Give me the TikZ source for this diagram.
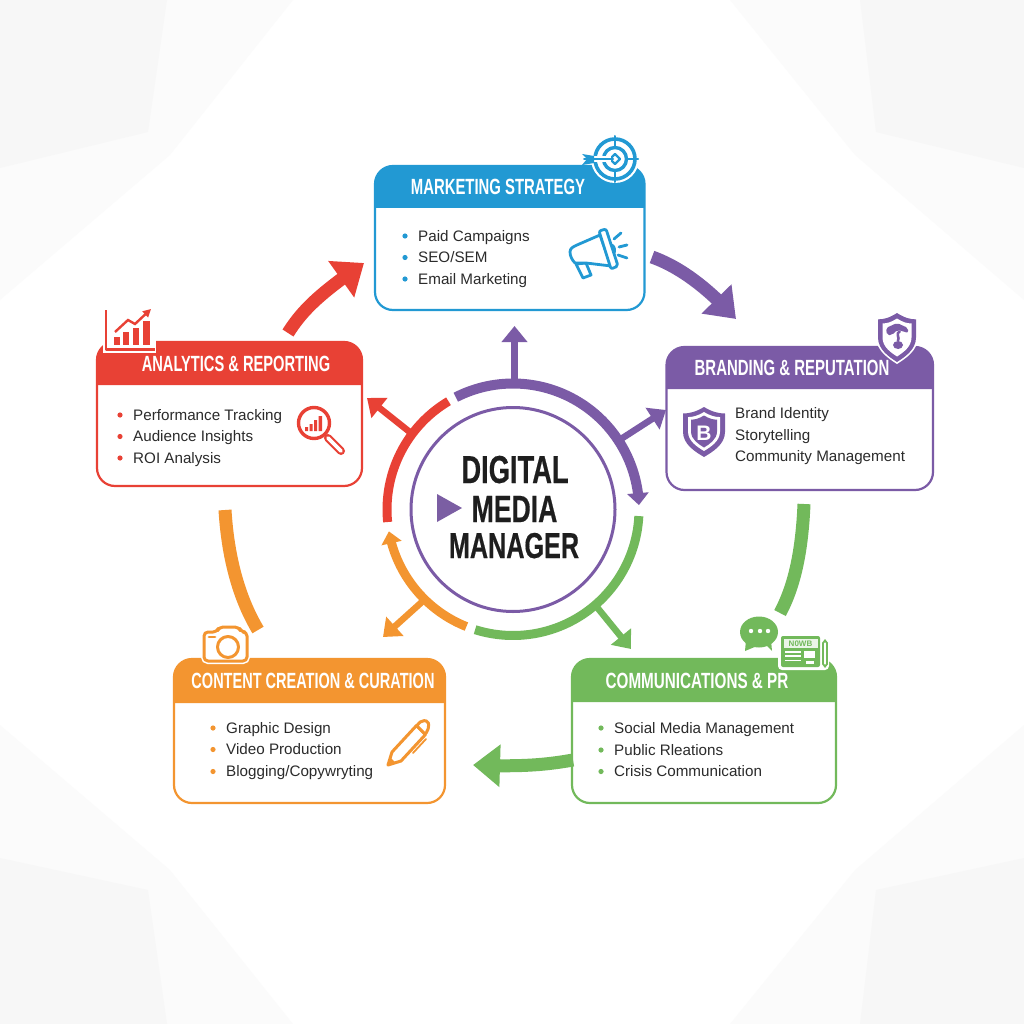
\documentclass[tikz,border=0pt]{standalone}
\usepackage{fontspec}
\usetikzlibrary{arrows.meta,bending}
\setmainfont{Liberation Sans}
\newfontfamily\titlefont[FakeStretch=0.66]{Liberation Sans Bold}
\newfontfamily\hubfont[FakeStretch=0.70,FakeBold=0.4]{Liberation Sans Bold}
\definecolor{cblue}{HTML}{2299D3}
\definecolor{cpurple}{HTML}{7B5BA6}
\definecolor{cred}{HTML}{E84135}
\definecolor{corange}{HTML}{F39530}
\definecolor{cgreen}{HTML}{72B95B}
\definecolor{ctext}{HTML}{2B2B2B}
\definecolor{chub}{HTML}{1E1E1E}
\definecolor{bgA}{HTML}{FBFBFB}
\definecolor{bgB}{HTML}{F7F7F7}
\tikzset{
  cardbox/.style={draw=#1,fill=white,line width=2.2pt,rounded corners=18pt,inner sep=0pt},
  titletext/.style={text=white,inner sep=0pt,font=\fontsize{22}{24}\titlefont},
  itemtext/.style={text=ctext,anchor=base west,inner sep=0pt,font=\fontsize{15.2}{18}\selectfont},
  hubtext/.style={text=chub,inner sep=0pt,anchor=base},
  radial/.style={draw=#1,line width=6.5pt,-{Triangle[length=16pt,width=25pt]}},
  ringarc/.style={draw=#1,line width=9pt},
  flow/.style={draw=#1,line width=13pt},
  icon/.style={draw=#1,line width=2.8pt,line cap=round,line join=round},
}
\newcommand{\card}[9]{% name,color,x1,y1,x2,y2,yh,title,titlex
  \pgfmathsetmacro{\cw}{#5-#3}\pgfmathsetmacro{\ch}{#6-#4}
  \pgfmathsetmacro{\cx}{(#3+#5)/2}\pgfmathsetmacro{\cy}{(#4+#6)/2}
  \node[cardbox=#2,minimum width=\cw pt,minimum height=\ch pt] (#1) at (\cx,\cy) {};
  \fill[#2] (#3,#7) [rounded corners=18pt] -- (#3,#4) -- (#5,#4) [sharp corners] -- (#5,#7) -- cycle;
  \pgfmathsetmacro{\ty}{(#4+#7)/2}
  \node[titletext] (#1title) at (#9,\ty) {#8};
}
\newcommand{\listentry}[5]{% name,color,xbullet,y,text
  \fill[#2] (#3,#4) circle (2.6);
  \pgfmathsetmacro{\tx}{#3+13}
  \pgfmathsetmacro{\by}{#4+5.2}
  \node[itemtext] (#1) at (\tx,\by) {#5};
}
\def\shpath{(0,0) .. controls (.2,.1) and (.35,.13) .. (.5,.13) -- (.5,.5) .. controls (.5,.75) and (.2,.9) .. (0,1) .. controls (-.2,.9) and (-.5,.75) .. (-.5,.5) -- (-.5,.13) .. controls (-.35,.13) and (-.2,.1) .. (0,0) -- cycle}
\newcommand{\shield}[5]{\fill[#5,shift={(#1,#2)},xscale=#3,yscale=#4] \shpath;}
\begin{document}
\begin{tikzpicture}[x=1pt,y=-1pt]
\useasboundingbox (0,0) rectangle (1024,1024);
% background facets
\fill[white] (0,0) rectangle (1024,1024);
\fill[bgA] (0,0) -- (293,0) -- (170,155) -- (0,300) -- cycle;
\fill[bgB] (0,0) -- (167,0) -- (148,132) -- (0,168) -- cycle;
\fill[bgA] (1024,0) -- (730,0) -- (855,155) -- (1024,300) -- cycle;
\fill[bgB] (1024,0) -- (860,0) -- (876,132) -- (1024,168) -- cycle;
\fill[bgA] (0,1024) -- (293,1024) -- (170,870) -- (0,725) -- cycle;
\fill[bgB] (0,1024) -- (167,1024) -- (148,890) -- (0,858) -- cycle;
\fill[bgA] (1024,1024) -- (730,1024) -- (855,870) -- (1024,725) -- cycle;
\fill[bgB] (1024,1024) -- (860,1024) -- (876,890) -- (1024,858) -- cycle;

% hub
\node[circle,draw=cpurple,fill=white,line width=3pt,minimum size=204pt,inner sep=0pt] (hub) at (513,509.5) {};
\node[hubtext,font=\fontsize{39}{42}\hubfont] (hubA) at (515,483) {DIGITAL};
\node[hubtext,font=\fontsize{38}{42}\hubfont] (hubB) at (514.5,522) {MEDIA};
\node[hubtext,font=\fontsize{36}{42}\hubfont] (hubC) at (514,558) {MANAGER};
\fill[cpurple!92!gray] (437,494) -- (462,508) -- (437,522) -- cycle;

% ring anchor points and free ends of the radial arrows
\coordinate (rTop) at (514.5,386);
\coordinate (rRight) at (621,439);
\coordinate (rLeft) at (411,433);
\coordinate (rLow) at (423,601);
\coordinate (rGreen) at (596,606);
\coordinate (tTop) at (514.5,326);
\coordinate (tRight) at (666,410);
\coordinate (tLeft) at (367,398);
\coordinate (tLow) at (383,637);
\coordinate (tGreen) at (631,649);
\draw[radial=cpurple] (rTop) -- (tTop);
\draw[radial=cpurple] (rRight) -- (tRight);
\draw[radial=cred] (rLeft) -- (tLeft);
\draw[radial=corange] (rLow) -- (tLow);
\draw[radial=cgreen] (rGreen) -- (tGreen);

% ring
\draw[ringarc=cpurple,line width=10pt,-{Triangle[length=12pt,width=21pt]}] (hub.center) ++(243:126) arc[start angle=243,end angle=358,radius=126];
\draw[ringarc=cgreen] (hub.center) ++(3:126) arc[start angle=3,end angle=107.5,radius=126];
\draw[ringarc=corange,-{Triangle[length=12pt,width=20pt]}] (hub.center) ++(111.7:126) arc[start angle=111.7,end angle=170,radius=126];
\draw[ringarc=cred] (hub.center) ++(174.3:126) arc[start angle=174.3,end angle=239.2,radius=126];

% cards
\card{mk}{cblue}{375}{166}{644.5}{310}{208}{\scalebox{1.025}[1]{MARKETING STRATEGY}}{498}
\card{br}{cpurple}{666.5}{347}{933}{490}{389}{\scalebox{1.03}[1]{BRANDING \& REPUTATION}}{792}
\card{an}{cred}{97}{342}{362}{486}{385}{\scalebox{1.01}[1]{ANALYTICS \& REPORTING}}{236}
\card{cc}{corange}{174}{659}{445}{803}{703}{CONTENT CREATION \& CURATION}{313}
\card{pr}{cgreen}{572}{659}{836}{803}{702}{\scalebox{1.05}[1]{COMMUNICATIONS \& PR}}{697}

% items
\listentry{mkA}{cblue}{405}{236}{Paid Campaigns}
\listentry{mkB}{cblue}{405}{257.5}{SEO/SEM}
\listentry{mkC}{cblue}{405}{279}{Email Marketing}
\node[itemtext] (brA) at (735,418.7) {Brand Identity};
\node[itemtext] (brB) at (735,440.2) {Storytelling};
\node[itemtext] (brC) at (735,461.7) {Community Management};
\listentry{anA}{cred}{120}{415}{Performance Tracking}
\listentry{anB}{cred}{120}{436.5}{Audience Insights}
\listentry{anC}{cred}{120}{458}{ROI Analysis}
\listentry{ccA}{corange}{213}{728}{Graphic Design}
\listentry{ccB}{corange}{213}{749.5}{Video Production}
\listentry{ccC}{corange}{213}{771.5}{Blogging/Copywryting}
\listentry{prA}{cgreen}{601}{728}{Social Media Management}
\listentry{prB}{cgreen}{601}{750}{Public Rleations}
\listentry{prC}{cgreen}{601}{771.5}{Crisis Communication}

% flow arrows between cards
\coordinate (fAs) at (288,333);
\coordinate (fAe) at (364,263);
\coordinate (fBs) at (652,257);
\coordinate (fBe) at (736,319);
\coordinate (fCs) at (804,504);
\coordinate (fCe) at (780,613);
\coordinate (fDs) at (573,760);
\coordinate (fDe) at (473,765);
\coordinate (fEs) at (225,510);
\coordinate (fEe) at (258,630);
\draw[flow=cred,-{Triangle[length=28pt,width=43pt]}] (fAs) .. controls (303,309) and (322,292) .. (fAe);
\draw[flow=cpurple,-{Triangle[length=28pt,width=40pt]}] (fBs) .. controls (680,267) and (708,288) .. (fBe);
\draw[flow=cgreen] (fCs) .. controls (802,550) and (795,585) .. (fCe);
\draw[flow=cgreen,-{Triangle[length=27pt,width=41pt]}] (fDs) .. controls (545,765) and (520,767) .. (fDe);
\draw[flow=corange] (fEs) .. controls (228,560) and (240,600) .. (fEe);

% target icon
\fill[white] (615,159) circle (24);
\draw[icon=cblue,line width=3.6pt] (615,159) circle (20);
\draw[icon=cblue,line width=3.4pt] (615,159) circle (11.5);
\draw[icon=cblue,line width=2.2pt] (610,159) -- (615,154) -- (620,159) -- (615,164) -- cycle;
\draw[icon=cblue,line width=2pt] (615,136) -- (615,146) (615,172) -- (615,182) (638,159) -- (628,159);
\draw[white,line width=6pt] (580,159) -- (611,159);
\draw[icon=cblue,line width=2pt] (584,159) -- (613,159);
\fill[cblue] (582,154) -- (594,156) -- (594,163) -- (582,165) -- (587,159) -- cycle;

% megaphone icon
\draw[icon=cblue,fill=white] (576,264) -- (583,278) -- (591,275) -- (586,263) -- cycle;
\draw[icon=cblue] (612,245) .. controls (615,247) and (615,251) .. (614,253);
\draw[icon=cblue,fill=white] (570,252) .. controls (570,248) and (573,247) .. (577,245) -- (600,235) -- (611,266) -- (586,263) -- (575,263) .. controls (572,260) and (570,256) .. (570,252) -- cycle;
\draw[icon=cblue,fill=white,rounded corners=2pt] (599,231) -- (606,229) -- (618,266) -- (611,269) -- cycle;
\draw[icon=cblue] (614,239) -- (621,233) (619,247) -- (627,245) (618,255) -- (627,258);

% branding shields
\shield{704}{407}{42}{50}{cpurple}
\shield{704}{412}{32}{39}{white}
\shield{704}{415.5}{26}{32}{cpurple}
\node[inner sep=0pt,text=white,font=\fontsize{21}{22}\selectfont\bfseries] (shieldB) at (704,433) {B};
\shield{897}{310}{42}{54}{white}
\shield{897}{313}{38}{49}{cpurple}
\shield{897}{318.5}{29}{38}{white}
\fill[cpurple,rounded corners=2pt] (886,328) -- (897,323) -- (908,328) -- (908,333) -- (902,331) -- (897,330) -- (892,335) -- (887,335) -- cycle;
\draw[cpurple,line width=2.6pt] (900,331) .. controls (895,334) and (900,337) .. (898,341);
\fill[cpurple] (898,345) ellipse (5 and 4);

% analytics icons
\fill[white] (103,338) rectangle (156,353);
\draw[icon=cred,line width=2.6pt,line cap=butt] (106,310) -- (106,349.5) -- (155,349.5);
\fill[cred] (114,337) rectangle (120,345);
\fill[cred] (123,332) rectangle (129,345);
\fill[cred] (133,328) rectangle (139,345);
\fill[cred] (143,321) rectangle (150,345);
\draw[white,line width=4.4pt] (115,332) -- (128,320) -- (135,324) -- (146,313);
\draw[cred,line width=2.4pt,-{Triangle[length=8pt,width=8pt]}] (115,332) -- (128,320) -- (135,324) -- (151,309);
\draw[icon=cred,line width=3.4pt] (314,423) circle (15.5);
\fill[cred] (305,427) rectangle (308,431) (309.5,424) rectangle (312.5,431) (314,420) rectangle (317,431) (318.5,416) rectangle (322,431);
\draw[cred,line width=8pt,line cap=round] (328,438) -- (341,451);
\draw[white,line width=3.6pt,line cap=round] (328,438) -- (341,451);

% camera
\draw[white,line width=6pt,rounded corners=4pt] (204,633) -- (247,633) -- (247,661) -- (204,661) -- cycle;
\draw[icon=corange,fill=white,rounded corners=4pt,line width=3pt] (204,632) -- (217,632) -- (219,627) -- (239,627) -- (241,632) -- (247,632) -- (247,661) -- (204,661) -- cycle;
\draw[icon=corange,line width=3pt] (228,647) circle (10.5);
\draw[icon=corange] (209,637) -- (215,637);

% pencil
\draw[icon=corange,fill=white,line width=3pt] (388,765) -- (392,752) -- (416.5,725.5) -- (425.5,734.5) -- (401,761) -- cycle;
\fill[corange] (388,765) -- (390,757) -- (396,763) -- cycle;
\draw[icon=corange,fill=white,line width=3pt,rounded corners=2pt] (416.5,725.5) -- (422,720.5) -- (428,721) -- (429,727) -- (425.5,734.5) -- cycle;
\draw[icon=corange,line width=1.8pt] (413,753) -- (426,739);

% chat bubble
\fill[cgreen] (759,632) ellipse (19 and 15.5);
\fill[cgreen] (746,640) -- (745,651) -- (757,646) -- cycle;
\fill[cgreen] (766,645) -- (772,651) -- (771,640) -- cycle;
\fill[white] (751,631) circle (2.2) (760,631) circle (2.2) (768,631) circle (2.2);

% newspaper
\fill[white,rounded corners=4pt] (778,633) rectangle (829,670);
\fill[cgreen,rounded corners=2pt] (781,636) rectangle (820,667);
\draw[cgreen,line width=1.8pt,line cap=round] (823,643) -- (823,664) -- (825,666.5) -- (827,664) -- (827,643) -- (825,640.5) -- cycle;
\fill[white!85!cgreen] (783.5,638.5) rectangle (817.5,648);
\node[inner sep=0pt,text=cgreen,font=\fontsize{8}{8}\selectfont\bfseries] (news) at (800.5,643.5) {N0WB};
\draw[white,line width=1.3pt] (785,652) -- (801,652) (785,656) -- (801,656) (785,660.5) -- (801,660.5);
\fill[white] (804,651) rectangle (815,658);
\fill[white] (806,661) rectangle (814,664);
\end{tikzpicture}
\end{document}
